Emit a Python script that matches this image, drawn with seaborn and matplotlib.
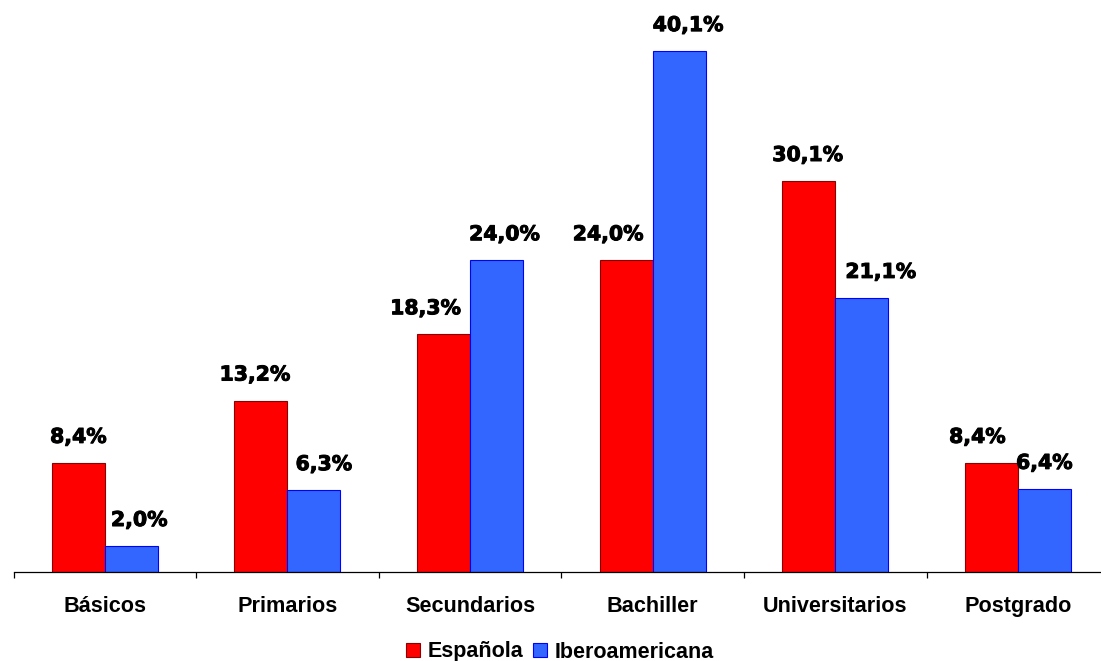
import matplotlib
matplotlib.use("Agg")
import matplotlib.pyplot as plt
import matplotlib.patheffects as pe
import seaborn as sns
import pandas as pd

# Nivel de estudios por origen (%)
categorias = ["Básicos", "Primarios", "Secundarios", "Bachiller", "Universitarios", "Postgrado"]
series = ["Española", "Iberoamericana"]
espanola = [8.4, 13.2, 18.3, 24.0, 30.1, 8.4]
iberoamericana = [2.0, 6.3, 24.0, 40.1, 21.1, 6.4]

colores = {"Española": "#FF0000", "Iberoamericana": "#3366FF"}
bordes = {"Española": "#8B0000", "Iberoamericana": "#0000FF"}
# small horizontal nudges (pixels) for the value labels
desplaz = {"Española": [0, -6, -18, -18, -1, -14],
           "Iberoamericana": [8, 10, 8, 9, 19, 0]}

df = pd.DataFrame({
    "Nivel": categorias * 2,
    "Porcentaje": espanola + iberoamericana,
    "Origen": [series[0]] * len(categorias) + [series[1]] * len(categorias),
})

sns.set_style("white")
plt.rcParams["font.family"] = ["DejaVu Sans"]
plt.rcParams["text.color"] = "black"
plt.rcParams["xtick.color"] = "black"

# heavier strokes for the value labels
grueso = [pe.withStroke(linewidth=0.7, foreground="black")]
fuente_ejes = "Liberation Sans"

W, H = 1101, 661
fig = plt.figure(figsize=(W / 100, H / 100), dpi=100)
ax = fig.add_axes([13.5 / W, (H - 572) / H, (W - 13.5) / W, 572 / H])

sns.barplot(data=df, x="Nivel", y="Porcentaje", hue="Origen",
            order=categorias, hue_order=series, palette=colores,
            width=0.58, gap=0, linewidth=0.8, saturation=1, ax=ax)

for cont, nombre in zip(ax.containers, series):
    for barra, dx in zip(cont, desplaz[nombre]):
        barra.set_edgecolor(bordes[nombre])
        v = barra.get_height()
        ax.annotate(f"{v:.1f}".replace(".", ",") + "%",
                    (barra.get_x() + barra.get_width() / 2, v),
                    xytext=(dx * 0.72, 14.4), textcoords="offset points",
                    ha="center", va="baseline", fontsize=14.7,
                    fontweight="bold", color="black", path_effects=grueso)

ax.set_xlabel("")
ax.set_ylabel("")
ax.set_yticks([])
for lado in ["top", "right", "left"]:
    ax.spines[lado].set_visible(False)
ax.spines["bottom"].set_color("black")
ax.spines["bottom"].set_linewidth(0.9)

ax.set_xticks(range(len(categorias)))
ax.set_xticklabels(categorias, fontsize=15.6, fontweight="bold", color="black",
                   family=fuente_ejes)
ax.set_xticks([i - 0.5 for i in range(len(categorias) + 1)], minor=True)
ax.tick_params(axis="x", which="major", length=0, pad=17)
ax.tick_params(axis="x", which="minor", length=4, width=0.9, color="black",
               direction="out", bottom=True)

# limits last so tick placement does not widen them
ax.set_xlim(-0.5, (W - 13.5) / 182.6 - 0.5)
ax.set_ylim(0, 572 / 12.99)

leyenda = ax.get_legend()
if leyenda is not None:
    leyenda.remove()
manijas = [cont.patches[0] for cont in ax.containers]
ley = fig.legend(manijas, series, loc="center", bbox_to_anchor=(560 / W, 1 - 652 / H),
                 ncol=2, frameon=False,
                 prop={"size": 15.5, "weight": "bold", "family": fuente_ejes},
                 handlelength=0.65, handleheight=0.65, handletextpad=0.33,
                 columnspacing=0.47, borderpad=0)
for t in ley.get_texts():
    t.set_color("black")

fig.savefig("out.png", dpi=100)
